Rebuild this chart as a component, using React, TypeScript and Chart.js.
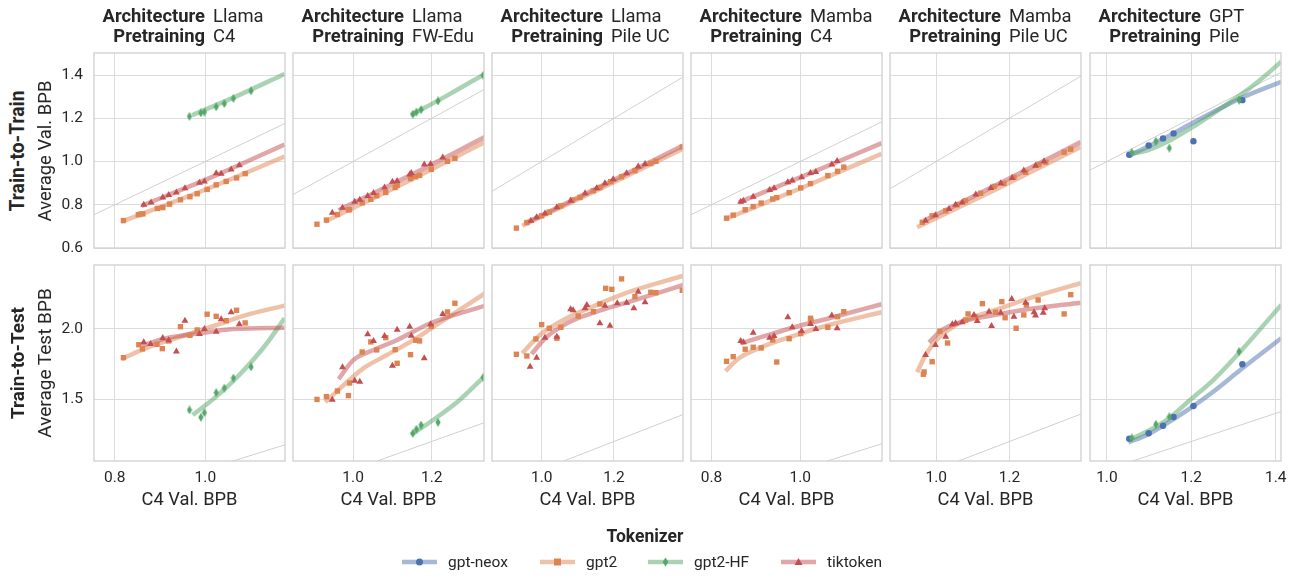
import React, { useEffect, useRef } from 'react';
import { Chart, registerables } from 'chart.js';
Chart.register(...registerables);

type P = [number, number];

// ---------- facets, axes, labels ----------
const architectures = ['Llama', 'Llama', 'Llama', 'Mamba', 'Mamba', 'GPT'];
const pretrainings = ['C4', 'FW-Edu', 'Pile UC', 'C4', 'Pile UC', 'Pile'];
const rowTitles = ['Train-to-Train', 'Train-to-Test'];
const rowYLabels = ['Average Val. BPB', 'Average Test BPB'];
const xAxisLabel = 'C4 Val. BPB';
const tokenizers = ['gpt-neox', 'gpt2', 'gpt2-HF', 'tiktoken'];
const legendTitle = 'Tokenizer';

const xTicksByCol: number[][] = [[0.8, 1.0], [1.0, 1.2], [1.0, 1.2], [0.8, 1.0], [1.0, 1.2], [1.0, 1.2, 1.4]];
const xMinByCol = [0.754, 0.847, 0.8625, 0.754, 0.874, 0.96];
const xMaxByCol = [1.176, 1.333, 1.391, 1.184, 1.395, 1.4125];
const yTicksByRow: number[][] = [[0.6, 0.8, 1.0, 1.2, 1.4], [1.5, 2.0]];
const yMinByRow = [0.6, 1.061];
const yMaxByRow = [1.502, 2.455];
const identityLine: P[] = [[0, 0], [3, 3]];

// ---------- Llama / C4 ----------
const llamaC4TrainHF: P[] = [[0.965, 1.209], [0.990, 1.225], [0.998, 1.229], [1.024, 1.253], [1.042, 1.268], [1.062, 1.292], [1.101, 1.327]];
const llamaC4TrainHFFit: P[] = [[0.971, 1.214], [1.073, 1.306], [1.175, 1.405]];
const llamaC4TrainTik: P[] = [[0.864, 0.800], [0.880, 0.811], [0.906, 0.834], [0.919, 0.845], [0.936, 0.857], [0.955, 0.876], [0.987, 0.902], [0.998, 0.908], [1.024, 0.946], [1.035, 0.944], [1.057, 0.963], [1.075, 0.983]];
const llamaC4TrainTikFit: P[] = [[0.859, 0.795], [1.017, 0.930], [1.175, 1.079]];
const llamaC4TrainGpt2: P[] = [[0.819, 0.727], [0.852, 0.754], [0.857, 0.757], [0.862, 0.758], [0.894, 0.783], [0.906, 0.787], [0.921, 0.803], [0.945, 0.823], [0.966, 0.837], [0.982, 0.851], [1.004, 0.871], [1.024, 0.892], [1.046, 0.908], [1.069, 0.924], [1.088, 0.944]];
const llamaC4TrainGpt2Fit: P[] = [[0.815, 0.722], [0.995, 0.866], [1.175, 1.023]];

const llamaC4TestGpt2: P[] = [[0.819, 1.796], [0.853, 1.888], [0.861, 1.858], [0.893, 1.891], [0.905, 1.860], [0.919, 1.915], [0.945, 2.016], [0.966, 1.955], [0.982, 1.993], [1.004, 2.105], [1.024, 2.090], [1.046, 2.059], [1.069, 2.133], [1.088, 2.043]];
const llamaC4TestGpt2Fit: P[] = [[0.815, 1.787], [0.877, 1.874], [0.950, 1.950], [1.024, 2.028], [1.097, 2.105], [1.175, 2.166]];
const llamaC4TestTik: P[] = [[0.864, 1.905], [0.879, 1.893], [0.906, 1.936], [0.919, 1.920], [0.936, 1.839], [0.955, 2.059], [0.987, 1.964], [0.998, 2.000], [1.024, 1.981], [1.035, 2.069], [1.057, 2.119], [1.075, 2.033]];
const llamaC4TestTikFit: P[] = [[0.859, 1.881], [0.914, 1.934], [0.987, 1.969], [1.060, 2.000], [1.175, 2.009]];
const llamaC4TestHF: P[] = [[0.965, 1.424], [0.990, 1.372], [0.998, 1.405], [1.024, 1.547], [1.042, 1.580], [1.062, 1.651], [1.101, 1.730]];
const llamaC4TestHFFit: P[] = [[0.972, 1.388], [1.024, 1.519], [1.075, 1.673], [1.133, 1.886], [1.175, 2.076]];

// ---------- Llama / FW-Edu ----------
const llamaFWTrainHF: P[] = [[1.152, 1.219], [1.161, 1.229], [1.173, 1.240], [1.216, 1.280], [1.331, 1.399]];
const llamaFWTrainHFFit: P[] = [[1.147, 1.214], [1.241, 1.307], [1.335, 1.405]];
const llamaFWTrainTik: P[] = [[0.947, 0.763], [0.973, 0.786], [1.004, 0.814], [1.017, 0.823], [1.037, 0.840], [1.052, 0.854], [1.080, 0.880], [1.100, 0.906], [1.112, 0.910], [1.144, 0.940], [1.148, 0.947], [1.181, 0.986], [1.197, 0.989], [1.228, 1.019]];
const llamaFWTrainTikFit: P[] = [[0.963, 0.775], [1.149, 0.940], [1.335, 1.113]];
const llamaFWTrainGpt2: P[] = [[0.908, 0.710], [0.932, 0.729], [0.960, 0.755], [0.988, 0.777], [0.991, 0.777], [1.023, 0.809], [1.045, 0.825], [1.060, 0.842], [1.083, 0.857], [1.107, 0.880], [1.112, 0.890], [1.146, 0.921], [1.159, 0.930], [1.169, 0.936], [1.199, 0.964], [1.240, 1.001], [1.259, 1.015]];
const llamaFWTrainGpt2Fit: P[] = [[0.928, 0.722], [1.132, 0.902], [1.335, 1.090]];

const llamaFWTestGpt2: P[] = [[0.908, 1.499], [0.932, 1.519], [0.960, 1.559], [0.988, 1.526], [0.991, 1.616], [1.023, 1.836], [1.045, 1.908], [1.060, 1.851], [1.083, 1.938], [1.107, 1.853], [1.112, 1.756], [1.146, 1.817], [1.159, 1.920], [1.169, 1.915], [1.199, 2.019], [1.240, 2.121], [1.259, 2.183]];
const llamaFWTestGpt2Fit: P[] = [[0.929, 1.479], [0.967, 1.578], [1.026, 1.720], [1.086, 1.815], [1.154, 1.922], [1.205, 2.016], [1.336, 2.254]];
const llamaFWTestTik: P[] = [[0.947, 1.497], [0.973, 1.728], [1.004, 1.632], [1.017, 1.625], [1.037, 1.962], [1.052, 1.915], [1.080, 1.950], [1.100, 1.739], [1.112, 1.995], [1.144, 2.016], [1.148, 1.952], [1.181, 1.792], [1.197, 2.033], [1.228, 2.107]];
const llamaFWTestTikFit: P[] = [[0.963, 1.644], [1.001, 1.780], [1.052, 1.851], [1.112, 1.922], [1.197, 2.041], [1.336, 2.166]];
const llamaFWTestHF: P[] = [[1.152, 1.258], [1.161, 1.287], [1.173, 1.317], [1.216, 1.336], [1.331, 1.656]];
const llamaFWTestHFFit: P[] = [[1.147, 1.246], [1.197, 1.340], [1.265, 1.480], [1.336, 1.668]];

// ---------- Llama / Pile UC ----------
const llamaPileTrainGpt2: P[] = [[0.930, 0.692], [0.959, 0.718], [1.000, 0.749], [1.021, 0.766], [1.053, 0.795], [1.085, 0.822], [1.106, 0.834], [1.143, 0.865], [1.161, 0.880], [1.191, 0.907], [1.221, 0.930], [1.258, 0.958], [1.302, 0.991], [1.316, 1.001], [1.389, 1.067]];
const llamaPileTrainGpt2Fit: P[] = [[0.946, 0.703], [1.168, 0.879], [1.391, 1.059]];
const llamaPileTrainTik: P[] = [[0.970, 0.726], [0.986, 0.742], [1.009, 0.760], [1.042, 0.788], [1.080, 0.819], [1.120, 0.853], [1.152, 0.876], [1.175, 0.899], [1.198, 0.918], [1.235, 0.946], [1.267, 0.977], [1.286, 0.989]];
const llamaPileTrainTikFit: P[] = [[0.954, 0.714], [1.172, 0.892], [1.391, 1.074]];

const llamaPileTestGpt2: P[] = [[0.930, 1.820], [0.959, 1.808], [0.984, 1.929], [1.000, 2.031], [1.021, 2.005], [1.042, 1.934], [1.053, 2.012], [1.101, 2.092], [1.143, 2.123], [1.161, 2.178], [1.177, 2.289], [1.194, 2.282], [1.221, 2.356], [1.258, 2.230], [1.302, 2.261], [1.316, 2.258], [1.389, 2.275]];
const llamaPileTestGpt2Fit: P[] = [[0.946, 1.827], [0.995, 1.957], [1.060, 2.064], [1.152, 2.171], [1.244, 2.265], [1.392, 2.379]];
const llamaPileTestTik: P[] = [[0.968, 1.732], [0.986, 1.796], [1.009, 1.938], [1.042, 1.945], [1.080, 2.140], [1.087, 2.133], [1.120, 2.147], [1.125, 2.171], [1.161, 2.041], [1.175, 2.166], [1.189, 2.023], [1.209, 2.183], [1.235, 2.187], [1.255, 2.147], [1.267, 2.265], [1.286, 2.190]];
const llamaPileTestTikFit: P[] = [[0.972, 1.822], [1.014, 1.945], [1.078, 2.052], [1.152, 2.123], [1.244, 2.194], [1.392, 2.313]];

// ---------- Mamba / C4 ----------
const mambaC4TrainTik: P[] = [[0.866, 0.814], [0.872, 0.819], [0.894, 0.837], [0.931, 0.868], [0.941, 0.876], [0.972, 0.904], [0.982, 0.912], [1.003, 0.927], [1.023, 0.947], [1.035, 0.952], [1.071, 0.986], [1.083, 1.003]];
const mambaC4TrainTikFit: P[] = [[0.862, 0.811], [1.023, 0.946], [1.183, 1.085]];
const mambaC4TrainGpt2: P[] = [[0.834, 0.738], [0.849, 0.752], [0.876, 0.777], [0.894, 0.792], [0.912, 0.808], [0.938, 0.827], [0.947, 0.833], [0.975, 0.856], [1.001, 0.878], [1.023, 0.898], [1.062, 0.935], [1.084, 0.955], [1.098, 0.974]];
const mambaC4TrainGpt2Fit: P[] = [[0.832, 0.734], [1.008, 0.882], [1.183, 1.036]];

const mambaC4TestTik: P[] = [[0.866, 1.915], [0.872, 1.905], [0.894, 1.974], [0.931, 1.938], [0.941, 1.950], [0.972, 2.083], [0.982, 2.012], [1.003, 1.986], [1.023, 2.036], [1.035, 2.000], [1.071, 2.095], [1.083, 2.005]];
const mambaC4TestTikFit: P[] = [[0.866, 1.898], [0.915, 1.945], [0.990, 2.016], [1.065, 2.076], [1.183, 2.176]];
const mambaC4TestGpt2: P[] = [[0.834, 1.770], [0.849, 1.803], [0.876, 1.856], [0.894, 1.870], [0.912, 1.865], [0.938, 1.922], [0.947, 1.765], [0.975, 1.931], [1.001, 1.967], [1.023, 2.076], [1.024, 2.060], [1.062, 2.012], [1.084, 2.087], [1.098, 2.123]];
const mambaC4TestGpt2Fit: P[] = [[0.832, 1.701], [0.862, 1.792], [0.915, 1.874], [0.990, 1.957], [1.065, 2.028], [1.183, 2.119]];

// ---------- Mamba / Pile UC ----------
const mambaPileTrainGpt2: P[] = [[0.962, 0.719], [0.989, 0.749], [1.026, 0.772], [1.057, 0.800], [1.080, 0.819], [1.121, 0.853], [1.158, 0.885], [1.185, 0.899], [1.212, 0.927], [1.244, 0.950], [1.280, 0.986], [1.299, 0.997], [1.349, 1.043], [1.367, 1.057]];
const mambaPileTrainGpt2Fit: P[] = [[0.948, 0.696], [1.171, 0.878], [1.394, 1.067]];
const mambaPileTrainTik: P[] = [[0.971, 0.726], [0.998, 0.752], [1.035, 0.780], [1.053, 0.800], [1.071, 0.811], [1.108, 0.847], [1.149, 0.878], [1.176, 0.899], [1.207, 0.924], [1.239, 0.958], [1.271, 0.981], [1.294, 1.001]];
const mambaPileTrainTikFit: P[] = [[0.966, 0.726], [1.180, 0.905], [1.394, 1.090]];

const mambaPileTestGpt2: P[] = [[0.965, 1.678], [0.967, 1.694], [0.989, 1.767], [1.010, 1.984], [1.031, 1.900], [1.080, 2.064], [1.087, 2.107], [1.106, 2.087], [1.126, 2.180], [1.162, 2.119], [1.179, 2.194], [1.188, 2.080], [1.218, 2.005], [1.239, 2.100], [1.246, 2.171], [1.278, 2.206], [1.349, 2.107], [1.367, 2.244]];
const mambaPileTestGpt2Fit: P[] = [[0.948, 1.692], [0.971, 1.815], [1.007, 1.938], [1.071, 2.052], [1.162, 2.135], [1.253, 2.218], [1.394, 2.325]];
const mambaPileTestTik: P[] = [[0.971, 1.815], [0.998, 1.886], [1.026, 1.945], [1.044, 2.033], [1.053, 2.041], [1.071, 2.048], [1.103, 2.100], [1.112, 2.057], [1.144, 2.123], [1.151, 2.021], [1.176, 2.116], [1.206, 2.213], [1.212, 2.087], [1.244, 2.187], [1.267, 2.119], [1.271, 2.095], [1.292, 2.116], [1.296, 2.147]];
const mambaPileTestTikFit: P[] = [[0.980, 1.905], [1.016, 1.993], [1.071, 2.052], [1.162, 2.100], [1.253, 2.142], [1.394, 2.187]];

// ---------- GPT / Pile ----------
const gptPileTrainNeox: P[] = [[1.053, 1.031], [1.099, 1.074], [1.133, 1.107], [1.158, 1.130], [1.205, 1.094], [1.321, 1.284]];
const gptPileTrainNeoxFit: P[] = [[1.051, 1.025], [1.095, 1.067], [1.142, 1.113], [1.197, 1.172], [1.252, 1.229], [1.316, 1.292], [1.413, 1.369]];
const gptPileTrainHF: P[] = [[1.059, 1.042], [1.116, 1.094], [1.148, 1.062], [1.313, 1.284]];
const gptPileTrainHFFit: P[] = [[1.055, 1.036], [1.095, 1.051], [1.142, 1.090], [1.197, 1.152], [1.252, 1.222], [1.316, 1.307], [1.363, 1.377], [1.413, 1.462]];

const gptPileTestNeox: P[] = [[1.053, 1.220], [1.099, 1.258], [1.133, 1.312], [1.158, 1.374], [1.205, 1.452], [1.321, 1.749]];
const gptPileTestNeoxFit: P[] = [[1.051, 1.194], [1.095, 1.246], [1.142, 1.329], [1.197, 1.436], [1.252, 1.554], [1.316, 1.708], [1.413, 1.934]];
const gptPileTestHF: P[] = [[1.059, 1.225], [1.116, 1.322], [1.148, 1.376], [1.313, 1.839]];
const gptPileTestHFFit: P[] = [[1.055, 1.215], [1.095, 1.270], [1.142, 1.353], [1.197, 1.495], [1.252, 1.637], [1.316, 1.839], [1.413, 2.171]];

// series per facet: [col][row] -> list of {tok index, points, fit}
type S = { tok: number; pts: P[]; fit: P[] };
const facets: S[][][] = [
  [
    [{ tok: 1, pts: llamaC4TrainGpt2, fit: llamaC4TrainGpt2Fit }, { tok: 2, pts: llamaC4TrainHF, fit: llamaC4TrainHFFit }, { tok: 3, pts: llamaC4TrainTik, fit: llamaC4TrainTikFit }],
    [{ tok: 1, pts: llamaC4TestGpt2, fit: llamaC4TestGpt2Fit }, { tok: 2, pts: llamaC4TestHF, fit: llamaC4TestHFFit }, { tok: 3, pts: llamaC4TestTik, fit: llamaC4TestTikFit }],
  ],
  [
    [{ tok: 1, pts: llamaFWTrainGpt2, fit: llamaFWTrainGpt2Fit }, { tok: 2, pts: llamaFWTrainHF, fit: llamaFWTrainHFFit }, { tok: 3, pts: llamaFWTrainTik, fit: llamaFWTrainTikFit }],
    [{ tok: 1, pts: llamaFWTestGpt2, fit: llamaFWTestGpt2Fit }, { tok: 2, pts: llamaFWTestHF, fit: llamaFWTestHFFit }, { tok: 3, pts: llamaFWTestTik, fit: llamaFWTestTikFit }],
  ],
  [
    [{ tok: 1, pts: llamaPileTrainGpt2, fit: llamaPileTrainGpt2Fit }, { tok: 3, pts: llamaPileTrainTik, fit: llamaPileTrainTikFit }],
    [{ tok: 1, pts: llamaPileTestGpt2, fit: llamaPileTestGpt2Fit }, { tok: 3, pts: llamaPileTestTik, fit: llamaPileTestTikFit }],
  ],
  [
    [{ tok: 1, pts: mambaC4TrainGpt2, fit: mambaC4TrainGpt2Fit }, { tok: 3, pts: mambaC4TrainTik, fit: mambaC4TrainTikFit }],
    [{ tok: 1, pts: mambaC4TestGpt2, fit: mambaC4TestGpt2Fit }, { tok: 3, pts: mambaC4TestTik, fit: mambaC4TestTikFit }],
  ],
  [
    [{ tok: 1, pts: mambaPileTrainGpt2, fit: mambaPileTrainGpt2Fit }, { tok: 3, pts: mambaPileTrainTik, fit: mambaPileTrainTikFit }],
    [{ tok: 1, pts: mambaPileTestGpt2, fit: mambaPileTestGpt2Fit }, { tok: 3, pts: mambaPileTestTik, fit: mambaPileTestTikFit }],
  ],
  [
    [{ tok: 0, pts: gptPileTrainNeox, fit: gptPileTrainNeoxFit }, { tok: 2, pts: gptPileTrainHF, fit: gptPileTrainHFFit }],
    [{ tok: 0, pts: gptPileTestNeox, fit: gptPileTestNeoxFit }, { tok: 2, pts: gptPileTestHF, fit: gptPileTestHFFit }],
  ],
];

// ---------- styling / layout ----------
const COLORS = ['#4C72B0', '#DD8452', '#55A868', '#C44E52'];
const LINE_COLORS = ['rgba(76,114,176,0.5)', 'rgba(221,132,82,0.5)', 'rgba(85,168,104,0.5)', 'rgba(196,78,82,0.5)'];
const TEXT = '#262626';
const FONT = 'Roboto, "DejaVu Sans", sans-serif';
const COL_LEFT = [94, 293, 492, 691, 890, 1090];
const COL_W = 191;
const ROW_TOP = [53, 265];
const ROW_H = [195, 196];
const LEGEND_X = [402, 540, 648, 781];
const LABEL_SIZE = 18.3;
const TICK_SIZE = 15.5;
// target rendered lengths (px) of the rotated row labels, as measured on the reference
const ROW_TITLE_LEN = [121, 112];
const ROW_YLABEL_LEN = [141, 150];

function fitSize(text: string, weight: number, target: number, fallback: number) {
  try {
    const g = document.createElement('canvas').getContext('2d');
    if (!g) return fallback;
    g.font = `${weight} 100px ${FONT}`;
    const w = g.measureText(text).width;
    if (!w) return fallback;
    return (100 * target) / w;
  } catch (e) {
    return fallback;
  }
}

function makeThinDiamond(color: string) {
  const c = document.createElement('canvas');
  c.width = 6;
  c.height = 9;
  const g = c.getContext('2d')!;
  g.fillStyle = color;
  g.beginPath();
  g.moveTo(3, 0);
  g.lineTo(5.6, 4.5);
  g.lineTo(3, 9);
  g.lineTo(0.4, 4.5);
  g.closePath();
  g.fill();
  return c;
}

const framePlugin = {
  id: 'frame',
  afterDatasetsDraw(chart: any) {
    const { ctx, chartArea: a } = chart;
    ctx.save();
    ctx.strokeStyle = '#cfcfcf';
    ctx.lineWidth = 1.3;
    ctx.strokeRect(a.left, a.top, a.right - a.left, a.bottom - a.top);
    ctx.restore();
  },
};

function canvasBox(r: number, c: number) {
  const L = c === 0 ? 60 : 8;
  const R = 24;
  const T = 24;
  const B = r === 0 ? 24 : 60;
  return { L, R, T, B, left: COL_LEFT[c] - L, top: ROW_TOP[r] - T, w: COL_W + L + R, h: ROW_H[r] + T + B };
}

function LegendIcon({ i }: { i: number }) {
  const col = COLORS[i];
  let marker: any = null;
  if (i === 0) marker = <circle cx={17.5} cy={6} r={3.5} fill={col} />;
  if (i === 1) marker = <rect x={14} y={2.5} width={7} height={7} fill={col} />;
  if (i === 2) marker = <polygon points="17.5,1.5 20.3,6 17.5,10.5 14.7,6" fill={col} />;
  if (i === 3) marker = <polygon points="17.5,2 21.5,9 13.5,9" fill={col} />;
  return (
    <svg width={35} height={12} style={{ position: 'absolute', left: LEGEND_X[i], top: 556 }}>
      <line x1={0} y1={6} x2={35} y2={6} stroke={col} strokeOpacity={0.5} strokeWidth={4.5} />
      {marker}
    </svg>
  );
}

export default function App() {
  const refs = useRef<(HTMLCanvasElement | null)[]>([]);

  useEffect(() => {
    const charts: Chart[] = [];
    const diamond = makeThinDiamond(COLORS[2]);
    const styles: any[] = ['circle', 'rect', diamond, 'triangle'];
    const radii = [3.2, 3.8, 4, 4];
    for (let c = 0; c < 6; c++) {
      for (let r = 0; r < 2; r++) {
        const cv = refs.current[c * 2 + r];
        if (!cv) continue;
        const box = canvasBox(r, c);
        const datasets: any[] = [
          {
            data: identityLine.map(([x, y]) => ({ x, y })),
            showLine: true,
            borderColor: '#d0d0d0',
            borderWidth: 1,
            pointRadius: 0,
            order: 30,
          },
        ];
        for (const s of facets[c][r]) {
          datasets.push({
            data: s.fit.map(([x, y]) => ({ x, y })),
            showLine: true,
            borderColor: LINE_COLORS[s.tok],
            borderWidth: 4.5,
            pointRadius: 0,
            cubicInterpolationMode: 'monotone',
            order: 20 - s.tok,
          });
          datasets.push({
            data: s.pts.map(([x, y]) => ({ x, y })),
            showLine: false,
            pointStyle: styles[s.tok],
            pointRadius: radii[s.tok],
            backgroundColor: COLORS[s.tok],
            borderColor: COLORS[s.tok],
            pointBorderWidth: 0,
            order: 10 - s.tok,
          });
        }
        const xTicks = xTicksByCol[c];
        const yTicks = yTicksByRow[r];
        const cfg: any = {
          type: 'scatter',
          data: { datasets },
          options: {
            animation: false,
            responsive: false,
            events: [],
            devicePixelRatio: 1,
            layout: { padding: { left: c === 0 ? 0 : box.L, right: box.R, top: box.T, bottom: r === 0 ? box.B : 0 } },
            plugins: { legend: { display: false }, tooltip: { enabled: false } },
            scales: {
              x: {
                type: 'linear',
                min: xMinByCol[c],
                max: xMaxByCol[c],
                afterBuildTicks: (s: any) => { s.ticks = xTicks.map((v) => ({ value: v })); },
                afterFit: (s: any) => { s.height = r === 0 ? 0 : box.B; },
                grid: { color: '#dcdcdc', lineWidth: 1, drawTicks: false },
                border: { display: false },
                ticks: {
                  display: r === 1,
                  padding: 8,
                  color: TEXT,
                  font: { family: FONT, size: TICK_SIZE },
                  maxRotation: 0,
                  callback: (v: any) => Number(v).toFixed(1),
                },
                title: {
                  display: r === 1,
                  text: xAxisLabel,
                  color: TEXT,
                  font: { family: FONT, size: LABEL_SIZE },
                  padding: { top: 0, bottom: 10 },
                },
              },
              y: {
                type: 'linear',
                min: yMinByRow[r],
                max: yMaxByRow[r],
                afterBuildTicks: (s: any) => { s.ticks = yTicks.map((v) => ({ value: v })); },
                afterFit: (s: any) => { s.width = c === 0 ? box.L : 0; },
                grid: { color: '#dcdcdc', lineWidth: 1, drawTicks: false },
                border: { display: false },
                ticks: {
                  display: c === 0,
                  padding: 11,
                  color: TEXT,
                  font: { family: FONT, size: TICK_SIZE },
                  callback: (v: any) => Number(v).toFixed(1),
                },
              },
            },
          },
          plugins: [framePlugin],
        };
        charts.push(new Chart(cv, cfg));
      }
    }
    return () => charts.forEach((ch) => ch.destroy());
  }, []);

  const canvases: any[] = [];
  for (let c = 0; c < 6; c++) {
    for (let r = 0; r < 2; r++) {
      const b = canvasBox(r, c);
      canvases.push(
        <canvas
          key={`cv-${c}-${r}`}
          ref={(el) => { refs.current[c * 2 + r] = el; }}
          width={b.w}
          height={b.h}
          style={{ position: 'absolute', left: b.left, top: b.top, width: b.w, height: b.h }}
        />
      );
    }
  }

  const textBase: any = { position: 'absolute', color: TEXT, fontFamily: FONT, whiteSpace: 'nowrap' };

  return (
    <div style={{ position: 'absolute', left: 0, top: 0, width: 1301, height: 578, background: '#fff', overflow: 'hidden' }}>
      {canvases}
      {architectures.map((a, c) => (
        <React.Fragment key={`hdr-${c}`}>
          <div style={{ ...textBase, left: COL_LEFT[c] + 111 - 200, width: 200, top: 6, textAlign: 'right', fontWeight: 700, fontSize: 18.4, lineHeight: '20px' }}>
            Architecture<br />Pretraining
          </div>
          <div style={{ ...textBase, left: COL_LEFT[c] + 119, top: 6, fontSize: 18.4, lineHeight: '20px' }}>
            {a}<br />{pretrainings[c]}
          </div>
        </React.Fragment>
      ))}
      {rowTitles.map((t, r) => {
        const cy = ROW_TOP[r] + ROW_H[r] / 2;
        const ts = fitSize(t, 700, ROW_TITLE_LEN[r], 19.5);
        const ls = fitSize(rowYLabels[r], 400, ROW_YLABEL_LEN[r], LABEL_SIZE);
        return (
          <React.Fragment key={`rt-${r}`}>
            <div style={{ ...textBase, left: 18, top: cy, fontWeight: 700, fontSize: ts, lineHeight: '20px', transform: 'translate(-50%, -50%) rotate(-90deg)' }}>{t}</div>
            <div style={{ ...textBase, left: 45, top: cy, fontSize: ls, lineHeight: '20px', transform: 'translate(-50%, -50%) rotate(-90deg)' }}>{rowYLabels[r]}</div>
          </React.Fragment>
        );
      })}
      <div style={{ ...textBase, left: 645, top: 526, fontWeight: 700, fontSize: 17.5, lineHeight: '20px', transform: 'translateX(-50%)' }}>{legendTitle}</div>
      {tokenizers.map((t, i) => (
        <React.Fragment key={`lg-${i}`}>
          <LegendIcon i={i} />
          <div style={{ ...textBase, left: LEGEND_X[i] + 46, top: 552, fontSize: 15.5, lineHeight: '20px' }}>{t}</div>
        </React.Fragment>
      ))}
    </div>
  );
}
